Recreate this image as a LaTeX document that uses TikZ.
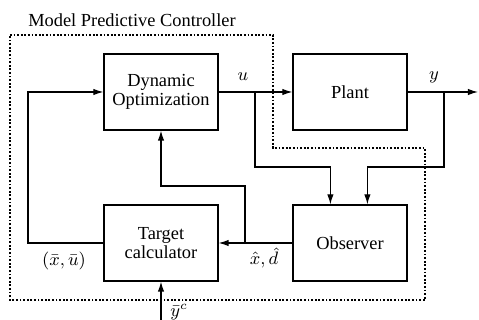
\documentclass[tikz,border=0pt]{standalone}
\usepackage{fontspec}
\setmainfont{Liberation Serif}
\usetikzlibrary{arrows.meta}
\begin{document}
\begin{tikzpicture}[x=0.5pt,y=-0.5pt,
  font=\fontsize{9.2}{9.6}\selectfont,
  blk/.style={draw,line width=0.6pt,minimum width=57pt,minimum height=38pt,align=center,inner sep=0pt},
  conn/.style={line width=0.6pt},
  arr/.style={conn,-{Latex[length=5pt,width=3.2pt]}},
  bound/.style={line width=0.6pt,dash pattern=on 0.9pt off 0.9pt},
  lbl/.style={inner sep=0pt}]
\useasboundingbox (0,0) rectangle (479,320);
% boundary
\draw[bound] (10,35) -- (273,35) -- (273,148) -- (425,148) -- (425,300) -- (10,300) -- cycle;
\node[lbl] (title) at (132,20) {Model Predictive Controller};
% blocks
\node[blk] (dyn) at (161,92) {Dynamic\\Optimization};
\node[blk] (plant) at (350,92) {Plant};
\node[blk] (tgt) at (161,243) {Target\\calculator};
\node[blk] (obs) at (350,243) {Observer};
% coordinates
\coordinate (ub) at (255,92);
\coordinate (yb) at (444,92);
\coordinate (yout) at (478,92);
\coordinate (o1) at ([xshift=19pt]obs.north west);
\coordinate (o2) at ([xshift=37.5pt]obs.north west);
\coordinate (xb) at (245,243);
\coordinate (yc) at (161,320);
% connectors
\draw[arr] (dyn.east) -- (plant.west);
\draw[arr] (plant.east) -- (yout);
\draw[arr] (ub) -- (255,167) -| (o1);
\draw[arr] (yb) -- (444,167) -| (o2);
\draw[arr] (obs.west) -- (tgt.east);
\draw[arr] (tgt.west) -- (28,243) -- (28,92) -- (dyn.west);
\draw[arr] (xb) -- (245,186) -| (dyn.south);
\draw[arr] (yc) -- (tgt.south);
% labels
\node[lbl] (lu) at (243,77) {$u$};
\node[lbl] (ly) at (434,77) {$y$};
\node[lbl] (lx) at (264,258) {$\hat{x},\hat{d}$};
\node[lbl] (lxu) at (64,261) {$(\bar{x},\bar{u})$};
\node[lbl] (lyc) at (179,312) {$\bar{y}^c$};
\end{tikzpicture}
\end{document}
